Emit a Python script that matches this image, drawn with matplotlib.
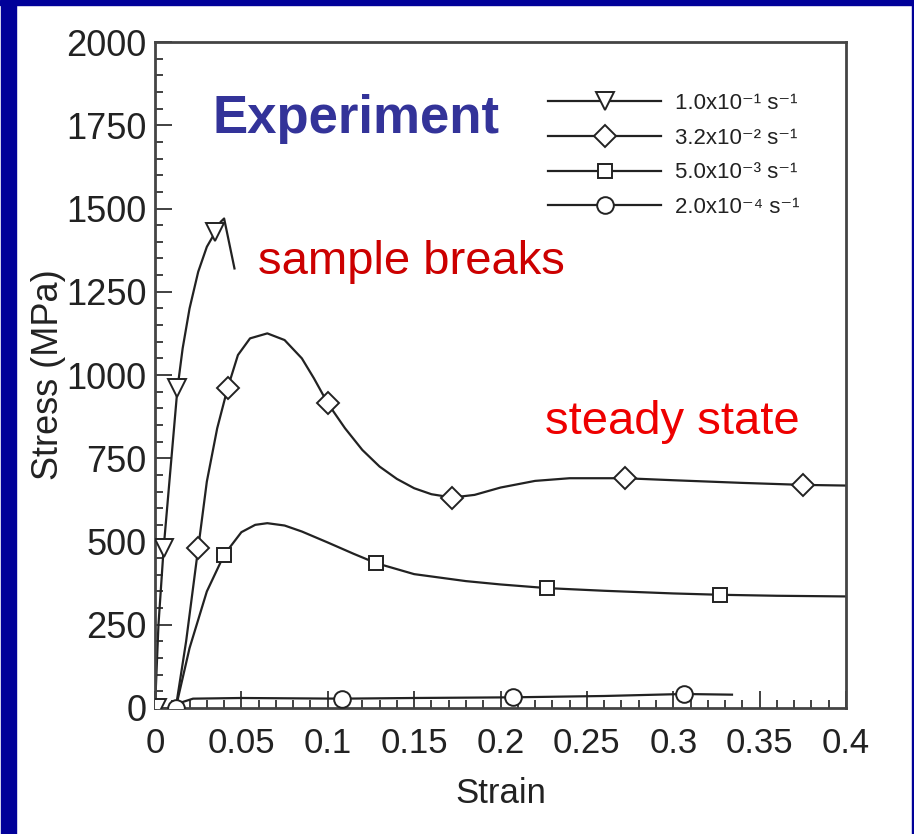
import matplotlib.pyplot as plt
from matplotlib.patches import Rectangle
from matplotlib.ticker import MultipleLocator, FuncFormatter

# curve traces (strain, stress MPa)
tri_x = [0.0, 0.002, 0.005, 0.009, 0.013, 0.016, 0.020, 0.025, 0.030, 0.035,
         0.038, 0.040, 0.046]
tri_y = [0, 250, 480, 720, 960, 1080, 1200, 1310, 1385, 1430,
         1460, 1470, 1320]

dia_x = [0.012, 0.018, 0.025, 0.030, 0.036, 0.042, 0.048, 0.055, 0.065, 0.075,
         0.085, 0.092, 0.100, 0.110, 0.120, 0.130, 0.140, 0.150, 0.160, 0.172,
         0.185, 0.200, 0.220, 0.240, 0.272, 0.300, 0.340, 0.375, 0.400]
dia_y = [0, 200, 480, 680, 840, 960, 1060, 1110, 1125, 1105,
         1050, 990, 915, 840, 775, 725, 688, 660, 642, 632,
         640, 662, 682, 690, 690, 684, 676, 670, 668]

sq_x = [0.012, 0.020, 0.030, 0.040, 0.050, 0.058, 0.065, 0.075, 0.085, 0.100,
        0.115, 0.128, 0.150, 0.180, 0.200, 0.227, 0.260, 0.300, 0.327, 0.360,
        0.400]
sq_y = [0, 180, 350, 460, 528, 550, 555, 548, 530, 497,
        463, 435, 402, 381, 371, 360, 352, 344, 340, 337,
        335]

circ_x = [0.012, 0.016, 0.022, 0.050, 0.108, 0.150, 0.207, 0.260, 0.306, 0.334]
circ_y = [0, 18, 28, 30, 28, 30, 32, 36, 42, 40]

# marker positions
tri_mx = [0.001, 0.005, 0.013, 0.035]
tri_my = [0, 480, 960, 1430]
dia_mx = [0.025, 0.042, 0.100, 0.172, 0.272, 0.375]
dia_my = [480, 960, 915, 632, 690, 670]
sq_mx = [0.040, 0.128, 0.227, 0.327]
sq_my = [460, 435, 360, 340]
circ_mx = [0.012, 0.108, 0.207, 0.306]
circ_my = [0, 28, 32, 42]

labels = ["1.0x10\u207b\u00b9 s\u207b\u00b9", "3.2x10\u207b\u00b2 s\u207b\u00b9",
          "5.0x10\u207b\u00b3 s\u207b\u00b9", "2.0x10\u207b\u2074 s\u207b\u00b9"]

plt.rcParams["font.family"] = ["Liberation Sans", "DejaVu Sans"]

fig = plt.figure(figsize=(9.14, 8.34), dpi=100)
ax = fig.add_axes([0.1696, 0.1511, 0.7560, 0.7985])

series = [
    (tri_x, tri_y, tri_mx, tri_my, "v", 13),
    (dia_x, dia_y, dia_mx, dia_my, "D", 11),
    (sq_x, sq_y, sq_mx, sq_my, "s", 10),
    (circ_x, circ_y, circ_mx, circ_my, "o", 12),
]
handles = []
for (cx, cy, mx, my, mk, ms), lab in zip(series, labels):
    ax.plot(cx, cy, color="#222222", lw=1.6, zorder=2, solid_joinstyle="round")
    ax.plot(mx, my, linestyle="none", marker=mk, ms=ms, mfc="white",
            mec="#222222", mew=1.4, zorder=3)
    handles.append(plt.Line2D([0], [0], color="#222222", lw=1.6, marker=mk,
                              ms=ms, mfc="white", mec="#222222", mew=1.4,
                              label=lab))

ax.set_xlim(0, 0.4)
ax.set_ylim(0, 2000)
ax.xaxis.set_major_locator(MultipleLocator(0.05))
ax.xaxis.set_minor_locator(MultipleLocator(0.01))
ax.yaxis.set_major_locator(MultipleLocator(250))
ax.yaxis.set_minor_locator(MultipleLocator(50))
ax.xaxis.set_major_formatter(FuncFormatter(lambda v, p: f"{v:.2f}".rstrip("0").rstrip(".")))
ax.tick_params(which="both", direction="in", color="#333333", width=1.3)
ax.tick_params(which="major", length=12, labelcolor="#222222")
ax.tick_params(axis="y", which="major", labelsize=26, pad=6)
ax.tick_params(axis="x", which="major", labelsize=25, pad=14)
ax.tick_params(which="minor", length=6)
for s in ax.spines.values():
    s.set_color("#444444")
    s.set_linewidth(2)

ax.set_xlabel("Strain", fontsize=25, color="#222222", labelpad=12)
ax.set_ylabel("Stress (MPa)", fontsize=26, color="#222222", labelpad=0)

leg = ax.legend(handles=handles, loc="upper right", bbox_to_anchor=(0.945, 0.937),
                frameon=False, fontsize=16, handlelength=5.1, labelspacing=0.62,
                handletextpad=0.6, borderaxespad=0)
for t in leg.get_texts():
    t.set_color("#222222")

ax.text(0.083, 0.885, "Experiment", transform=ax.transAxes, fontsize=38,
        fontweight="bold", color="#333399", ha="left", va="center")
ax.text(0.149, 0.67, "sample breaks", transform=ax.transAxes, fontsize=34,
        color="#cc0000", ha="left", va="center")
ax.text(0.564, 0.43, "steady state", transform=ax.transAxes, fontsize=34,
        color="#ee0000", ha="left", va="center")

# dark blue slide frame
blue = "#000099"
fig.patches.append(Rectangle((1 / 914, 0), 15 / 914, 1, transform=fig.transFigure,
                             color=blue, zorder=0))
fig.patches.append(Rectangle((0, 1 - 5 / 834), 1, 5 / 834, transform=fig.transFigure,
                             color=blue, zorder=0))
fig.patches.append(Rectangle((1 - 2 / 914, 0), 2 / 914, 1, transform=fig.transFigure,
                             color=blue, zorder=0))

fig.savefig("out.png", dpi=100)
